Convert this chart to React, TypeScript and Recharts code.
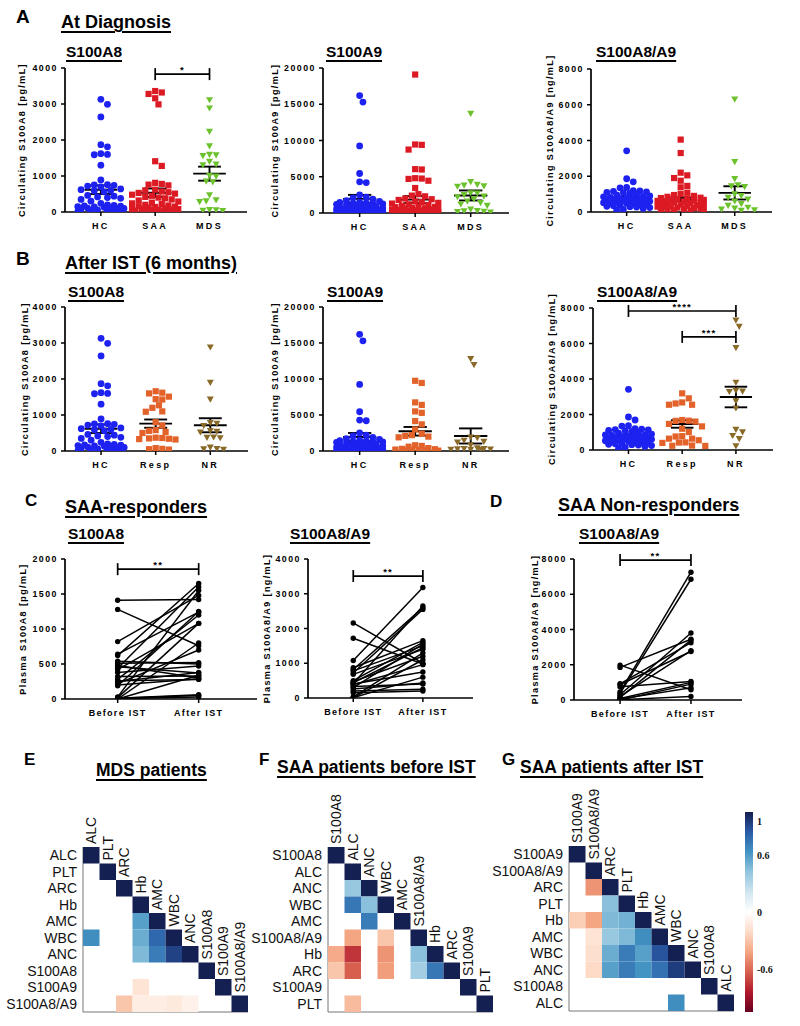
import React from 'react';
import { ScatterChart, Scatter, XAxis, YAxis, ReferenceLine, BarChart, Bar } from 'recharts';

const SANS = '"Liberation Sans", Arial, Helvetica, sans-serif';
const SERIF = '"Liberation Serif", "Times New Roman", serif';

// ---- colours of the groups
const BLUE = '#1e22f0';
const RED = '#dc1a24';
const GREEN = '#6cc22c';
const ORANGE = '#e2622a';
const BROWN = '#8a6a28';

// ---- A: at diagnosis
const dxCats = ['HC', 'SAA', 'MDS'];
const hcA8 = [3130, 2990, 2640, 1870, 1810, 1620, 1600, 1590, 1300, 890, 760, 750, 740, 720, 700, 640, 620, 600, 590, 560, 460, 440, 420, 400, 380, 350, 300, 240, 200, 180, 170, 160, 150, 140, 130, 120, 110, 100, 90, 80, 60, 50, 40, 30, 20, 10];
const saaA8 = [3360, 3320, 3280, 3160, 2990, 1410, 1280, 810, 780, 760, 740, 620, 600, 570, 550, 530, 510, 480, 450, 420, 400, 380, 350, 320, 290, 260, 240, 220, 200, 180, 160, 150, 140, 120, 110, 100, 90, 80, 70, 60, 50, 40, 30, 25, 20, 15, 10, 5];
const mdsA8 = [3110, 2880, 2230, 1830, 1590, 1580, 1560, 1400, 1320, 1300, 1010, 990, 850, 830, 470, 330, 300, 280, 60, 50, 40, 30];
const dxMeanA8 = [620, 535, 1065];
const dxSemA8 = [120, 118, 195];

const hcA9 = [16200, 15300, 9250, 5450, 4300, 4200, 2500, 2200, 2100, 1900, 1700, 1600, 1500, 1450, 1400, 1350, 1300, 1250, 1200, 1150, 1100, 1000, 950, 900, 850, 800, 750, 700, 650, 600, 550, 500, 450, 400, 380, 350, 320, 300, 280, 250, 220, 200, 180, 150, 120, 100];
const saaA9 = [19100, 9450, 9400, 8750, 6050, 6000, 4800, 4750, 4700, 4450, 3450, 2600, 2400, 2300, 2000, 1900, 1800, 1600, 1500, 1400, 1300, 1200, 1100, 1000, 900, 850, 800, 700, 650, 600, 550, 500, 450, 400, 380, 350, 300, 280, 250, 220, 200, 180, 150, 120, 100, 80, 60, 50];
const mdsA9 = [13700, 4300, 3900, 3800, 3700, 3650, 2750, 2700, 2500, 2300, 2200, 1900, 1600, 1400, 1200, 1000, 500, 300, 250, 200, 150, 100];
const dxMeanA9 = [1950, 1850, 2420];
const dxSemA9 = [550, 480, 690];

const hcA8A9 = [3420, 1860, 1690, 1370, 1350, 1200, 1180, 1150, 1130, 1100, 1080, 1050, 1000, 950, 900, 870, 850, 820, 800, 780, 760, 740, 720, 700, 680, 660, 640, 620, 600, 580, 550, 520, 500, 480, 450, 420, 400, 380, 350, 320, 300, 280, 250, 200, 150, 100];
const saaA8A9 = [4050, 3300, 2200, 2050, 1900, 1750, 1460, 1380, 1080, 1000, 950, 900, 850, 800, 780, 750, 720, 700, 680, 650, 620, 600, 580, 550, 520, 500, 480, 450, 420, 400, 380, 350, 320, 300, 280, 250, 220, 200, 180, 150, 120, 100, 80, 60];
const mdsA8A9 = [6300, 2800, 1850, 1500, 1450, 1400, 1000, 900, 800, 700, 600, 450, 350, 250, 200, 150, 100, 80];
const dxMeanA8A9 = [750, 700, 1070];
const dxSemA8A9 = [95, 110, 370];

// ---- B: after IST
const istCats = ['HC', 'Resp', 'NR'];
const respA8 = [1660, 1620, 1600, 1510, 1440, 1430, 1270, 1200, 1100, 1090, 800, 710, 580, 560, 530, 500, 370, 360, 350, 340, 330, 320, 80, 60, 50, 40];
const nrA8 = [2880, 1900, 1430, 780, 760, 700, 560, 540, 520, 380, 370, 360, 100, 60, 50, 40];
const istMeanA8 = [620, 760, 715];
const istSemA8 = [120, 115, 195];

const respA9 = [9750, 9450, 6750, 6400, 5500, 5300, 4150, 3700, 3000, 2400, 2200, 2100, 2000, 1900, 800, 700, 600, 400, 300, 250, 200, 150, 120, 100, 80, 50];
const nrA9 = [12800, 11950, 1900, 1800, 1450, 1300, 1200, 800, 400, 300, 280, 250, 220, 200, 180, 150];
const istMeanA9 = [1950, 2740, 2090];
const istSemA9 = [550, 600, 1050];

const respA8A9 = [3190, 2910, 2680, 2620, 2550, 2550, 1690, 1650, 1640, 1600, 1470, 1330, 1200, 1010, 780, 760, 640, 640, 550, 430, 420, 400, 250, 240, 230];
const nrA8A9 = [7300, 6950, 5750, 3800, 3350, 3300, 3280, 2750, 2350, 1150, 1000, 800, 620, 210];
const istMeanA8A9 = [740, 1465, 2985];
const istSemA8A9 = [95, 210, 580];

// ---- C / D: paired before / after IST
const pairCats = ['Before IST', 'After IST'];
const respBeforeA8 = [1410, 1280, 820, 640, 620, 540, 510, 480, 460, 440, 420, 380, 320, 280, 260, 250, 220, 200, 190, 30, 20, 10, 10, 5, 0, 0];
const respAfterA8 = [1420, 760, 1480, 1240, 1650, 500, 520, 300, 370, 1600, 1080, 470, 330, 1200, 280, 380, 700, 290, 1250, 1550, 1080, 50, 60, 30, 340, 800];
const respBeforeA8A9 = [2160, 1720, 1080, 870, 820, 780, 720, 680, 500, 470, 440, 420, 400, 380, 330, 300, 260, 200, 150, 30, 10, 5];
const respAfterA8A9 = [1000, 980, 3180, 1650, 2600, 1500, 2550, 1400, 1600, 1200, 1450, 2650, 750, 960, 400, 1550, 430, 250, 200, 1300, 600, 1100];
const nrBeforeA8A9 = [1980, 1850, 920, 880, 750, 460, 380, 300, 200, 150, 80, 50, 20, 0];
const nrAfterA8A9 = [580, 3450, 3250, 2750, 1050, 7250, 6850, 3800, 2800, 3400, 1000, 700, 200, 900];

// ---- E / F / G: correlation matrices (lower triangle, null = not significant)
const mdsNames = ['ALC', 'PLT', 'ARC', 'Hb', 'AMC', 'WBC', 'ANC', 'S100A8', 'S100A9', 'S100A8/A9'];
const mdsCorr = [
  [1],
  [null, 1],
  [null, null, 1],
  [null, null, null, 1],
  [null, null, null, 0.55, 1],
  [0.62, null, null, 0.5, 0.75, 1],
  [null, null, null, 0.45, 0.68, 0.88, 1],
  [null, null, null, null, null, null, null, 1],
  [null, null, null, -0.15, null, null, null, null, 1],
  [null, null, -0.28, -0.1, -0.1, -0.12, -0.08, null, null, 1],
];
const beforeNames = ['S100A8', 'ALC', 'ANC', 'WBC', 'AMC', 'S100A8/A9', 'Hb', 'ARC', 'S100A9', 'PLT'];
const beforeCorr = [
  [1],
  [null, 1],
  [null, 0.38, 1],
  [null, 0.7, 0.42, 1],
  [null, null, 0.68, null, 1],
  [null, -0.4, null, -0.28, null, 1],
  [-0.38, -0.72, null, -0.45, null, 0.42, 1],
  [-0.28, -0.6, null, -0.42, null, 0.35, 0.7, 1],
  [null, null, null, null, null, null, null, null, 1],
  [null, -0.32, null, null, null, null, null, null, null, 1],
];
const afterNames = ['S100A9', 'S100A8/A9', 'ARC', 'PLT', 'Hb', 'AMC', 'WBC', 'ANC', 'S100A8', 'ALC'];
const afterCorr = [
  [1],
  [null, 1],
  [null, -0.45, 1],
  [null, null, 0.42, 1],
  [-0.25, -0.4, 0.45, 0.48, 1],
  [null, -0.15, 0.38, 0.45, 0.62, 1],
  [null, -0.18, 0.5, 0.68, 0.55, 0.82, 1],
  [null, -0.2, 0.55, 0.68, 0.6, 0.72, 0.9, 1],
  [null, null, null, null, null, null, null, null, 1],
  [null, null, null, null, null, null, 0.62, null, null, 1],
];
const barTicks = [-1, -0.6, 0, 0.6, 1];

const RDBU = ['#67001F', '#B2182B', '#D6604D', '#F4A582', '#FDDBC7', '#FFFFFF', '#D1E5F0', '#92C5DE', '#4393C3', '#2a5aa6', '#141f52'];

function hex(c: string) {
  return [1, 3, 5].map((i) => parseInt(c.slice(i, i + 2), 16));
}
function corrColor(v: number) {
  const t = Math.max(0, Math.min(10, ((v + 1) / 2) * 10));
  const i = Math.min(9, Math.floor(t));
  const f = t - i;
  const a = hex(RDBU[i]);
  const b = hex(RDBU[i + 1]);
  const m = a.map((x, k) => Math.round(x + (b[k] - x) * f));
  return `rgb(${m[0]},${m[1]},${m[2]})`;
}

// spread points of one column sideways so they do not overlap (scatter dot plot)
function swarm(values: number[], pxY: number, pxX: number) {
  const d = 6.6;
  const step = 3.3;
  const maxOff = 25;
  const placed: [number, number][] = [];
  return values.map((v) => {
    const y = v * pxY;
    let best = 0;
    let bestGap = -1;
    for (let k = 0; k * step <= maxOff; k++) {
      const cands = k === 0 ? [0] : [k * step, -k * step];
      for (const c of cands) {
        let gap = Infinity;
        for (const [px, py] of placed) gap = Math.min(gap, Math.hypot(px - c, py - y));
        if (gap >= d) {
          placed.push([c, y]);
          return c / pxX;
        }
        if (gap > bestGap) {
          bestGap = gap;
          best = c;
        }
      }
    }
    placed.push([best, y]);
    return best / pxX;
  });
}

const marker = (kind: string, color: string) => (p: any) => {
  if (kind === 'square') return <rect x={p.cx - 3.1} y={p.cy - 3.1} width={6.2} height={6.2} fill={color} />;
  if (kind === 'triangle')
    return <polygon points={`${p.cx - 3.5},${p.cy - 2.9} ${p.cx + 3.5},${p.cy - 2.9} ${p.cx},${p.cy + 3.3}`} fill={color} />;
  if (kind === 'dot') return <circle cx={p.cx} cy={p.cy} r={2.7} fill={color} />;
  return <circle cx={p.cx} cy={p.cy} r={3.4} fill={color} />;
};

const axisTickStyle = { fontFamily: SANS, fontWeight: 700, fill: '#000' };

const XTick = (labels: string[], spacing: number) => (p: any) => (
  <text x={p.x} y={p.y} dy="0.72em" textAnchor="middle" fontSize={9} letterSpacing={spacing} {...axisTickStyle}>
    {labels[Math.round(p.payload.value) - 1]}
  </text>
);
const YTick = (p: any) => (
  <text x={p.x} y={p.y} dy="0.35em" textAnchor="end" fontSize={8.8} letterSpacing={1.5} {...axisTickStyle}>
    {p.payload.value}
  </text>
);

type Bracket = { from: number; to: number; y: number; text: string };

type FrameProps = {
  axisX: number;
  xEnd: number;
  yTop: number;
  yBottom: number;
  max: number;
  ticks: number[];
  cats: string[];
  catSpacing: number;
  xDom: [number, number];
  yLabel: string;
  labelGap: number;
  brackets?: Bracket[];
};

const YW = 62;
const MT = 26;
const XH = 42;
const MR = 6;

function bracketLines(b: Bracket, pxY: number, i: number) {
  const h = 6 / pxY;
  const line = { stroke: '#000', strokeWidth: 1.7, ifOverflow: 'visible' as const };
  return [
    <ReferenceLine
      key={`b${i}`}
      segment={[{ x: b.from, y: b.y }, { x: b.to, y: b.y }]}
      {...line}
      label={{ value: b.text, position: 'top', offset: 1, fontSize: 9.5, fontWeight: 700, fill: '#000', letterSpacing: 1.2 }}
    />,
    <ReferenceLine key={`bl${i}`} segment={[{ x: b.from, y: b.y - h }, { x: b.from, y: b.y + h }]} {...line} />,
    <ReferenceLine key={`br${i}`} segment={[{ x: b.to, y: b.y - h }, { x: b.to, y: b.y + h }]} {...line} />,
  ];
}

function Frame(props: FrameProps & { content: (pxY: number, pxX: number) => React.ReactNode[] }) {
  const { axisX, xEnd, yTop, yBottom, max, ticks, cats, catSpacing, xDom, yLabel, labelGap, brackets = [] } = props;
  const plotW = xEnd - axisX;
  const plotH = yBottom - yTop;
  const pxY = plotH / max;
  const pxX = plotW / (xDom[1] - xDom[0]);
  return (
    <div style={{ position: 'absolute', left: axisX - YW, top: yTop - MT }}>
      <ScatterChart width={YW + plotW + MR} height={MT + plotH + XH} margin={{ top: MT, right: MR, bottom: 0, left: 0 }}>
        <XAxis
          type="number"
          dataKey="x"
          domain={xDom}
          ticks={cats.map((_, i) => i + 1)}
          allowDataOverflow
          height={XH}
          tickSize={4}
          tickMargin={7}
          axisLine={{ stroke: '#000', strokeWidth: 1.7 }}
          tickLine={{ stroke: '#000', strokeWidth: 1.5 }}
          tick={XTick(cats, catSpacing)}
        />
        <YAxis
          type="number"
          dataKey="y"
          domain={[0, max]}
          ticks={ticks}
          allowDataOverflow
          width={YW}
          tickSize={4}
          tickMargin={3}
          axisLine={{ stroke: '#000', strokeWidth: 1.7 }}
          tickLine={{ stroke: '#000', strokeWidth: 1.5 }}
          tick={YTick}
          label={{
            value: yLabel,
            angle: -90,
            position: 'insideLeft',
            offset: YW - labelGap,
            style: { textAnchor: 'middle', fontSize: 9, fontWeight: 700, letterSpacing: 1.4, fill: '#000', fontFamily: SANS },
          }}
        />
        {props.content(pxY, pxX)}
        {brackets.flatMap((b, i) => bracketLines(b, pxY, i))}
      </ScatterChart>
    </div>
  );
}

type Group = { values: number[]; color: string; shape: string };

function DotPlot(p: Omit<FrameProps, 'catSpacing'> & { groups: Group[]; means: number[]; sems: number[] }) {
  const content = (pxY: number, pxX: number) => {
    const out: React.ReactNode[] = [];
    p.groups.forEach((g, gi) => {
      const offs = swarm(g.values, pxY, pxX);
      const data = g.values.map((v, i) => ({ x: gi + 1 + offs[i], y: v }));
      out.push(<Scatter key={`s${gi}`} data={data} shape={marker(g.shape, g.color)} isAnimationActive={false} />);
    });
    p.means.forEach((m, gi) => {
      const x = gi + 1;
      const s = p.sems[gi];
      const st = { stroke: '#000', strokeWidth: 1.9, ifOverflow: 'visible' as const };
      out.push(<ReferenceLine key={`m${gi}`} segment={[{ x: x - 0.3, y: m }, { x: x + 0.3, y: m }]} {...st} />);
      out.push(<ReferenceLine key={`v${gi}`} segment={[{ x, y: m - s }, { x, y: m + s }]} {...st} />);
      out.push(<ReferenceLine key={`u${gi}`} segment={[{ x: x - 0.21, y: m + s }, { x: x + 0.21, y: m + s }]} {...st} />);
      out.push(<ReferenceLine key={`l${gi}`} segment={[{ x: x - 0.21, y: m - s }, { x: x + 0.21, y: m - s }]} {...st} />);
    });
    return out;
  };
  return <Frame {...p} catSpacing={2.3} content={content} />;
}

function PairPlot(p: Omit<FrameProps, 'catSpacing'> & { before: number[]; after: number[] }) {
  const content = () =>
    p.before.map((b, i) => (
      <Scatter
        key={`p${i}`}
        data={[{ x: 1, y: b }, { x: 2, y: p.after[i] }]}
        line={{ stroke: '#000', strokeWidth: 1.5 }}
        shape={marker('dot', '#000')}
        isAnimationActive={false}
      />
    ));
  return <Frame {...p} catSpacing={1.3} content={content} />;
}

const CELL = 16.5;
const HM_YW = 80;
const HM_MT = 75;

function Heatmap({ left, top, names, corr }: { left: number; top: number; names: string[]; corr: (number | null)[][] }) {
  const data: { x: number; y: number; v: number; diag: boolean; name: string }[] = [];
  corr.forEach((row, i) =>
    row.forEach((v, j) => {
      if (v !== null) data.push({ x: j + 0.5, y: i + 0.5, v, diag: i === j, name: names[j] });
    })
  );
  const cellShape = (p: any) => {
    const d = p.payload;
    return (
      <g>
        <rect x={p.cx - CELL / 2} y={p.cy - CELL / 2} width={CELL} height={CELL} fill={corrColor(d.v)} />
        {d.diag && (
          <text
            x={p.cx + 5}
            y={p.cy - CELL / 2 - 3}
            transform={`rotate(-90 ${p.cx + 5} ${p.cy - CELL / 2 - 3})`}
            fontSize={14}
            fontFamily={SANS}
            fill="#111"
          >
            {d.name}
          </text>
        )}
      </g>
    );
  };
  const rowTick = (p: any) => (
    <text x={p.x} y={p.y} dy="0.36em" textAnchor="end" fontSize={14} fontFamily={SANS} fill="#111">
      {names[Math.floor(p.payload.value)]}
    </text>
  );
  return (
    <div style={{ position: 'absolute', left: left - HM_YW, top: top - HM_MT }}>
      <ScatterChart width={HM_YW + CELL * 10 + 30} height={HM_MT + CELL * 10 + 4} margin={{ top: HM_MT, right: 30, bottom: 0, left: 0 }}>
        <XAxis type="number" dataKey="x" domain={[0, 10]} height={4} tick={false} tickLine={false} axisLine={{ stroke: '#777' }} />
        <YAxis
          type="number"
          dataKey="y"
          domain={[0, 10]}
          reversed
          ticks={names.map((_, i) => i + 0.5)}
          interval={0}
          width={HM_YW}
          tickSize={0}
          tickMargin={6}
          tickLine={false}
          axisLine={{ stroke: '#777' }}
          tick={rowTick}
        />
        <Scatter data={data} shape={cellShape} isAnimationActive={false} />
      </ScatterChart>
    </div>
  );
}

function ColorBar() {
  const tick = (p: any) => (
    <text x={p.x} y={p.y} dy="0.35em" textAnchor="start" fontSize={10} fontWeight={700} fontFamily={SERIF} fill="#111">
      {p.payload.value}
    </text>
  );
  return (
    <div style={{ position: 'absolute', left: 745, top: 812 }}>
      <BarChart width={38} height={200} data={[{ k: 'bar', v: [-1.05, 1.06] }]} margin={{ top: 0, right: 0, bottom: 0, left: 0 }} barCategoryGap={0}>
        <defs>
          <linearGradient id="rdbu" x1="0" y1="0" x2="0" y2="1">
            {RDBU.map((c, i) => (
              <stop key={c} offset={`${i * 10}%`} stopColor={RDBU[10 - i]} />
            ))}
          </linearGradient>
        </defs>
        <XAxis dataKey="k" hide />
        <YAxis orientation="right" domain={[-1.05, 1.06]} ticks={barTicks} width={30} axisLine={false} tickLine={false} tickSize={0} tickMargin={4} tick={tick} />
        <Bar dataKey="v" fill="url(#rdbu)" isAnimationActive={false} />
      </BarChart>
    </div>
  );
}

function T({ x, cy, size, text, u }: { x: number; cy: number; size: number; text: string; u?: boolean }) {
  return (
    <div
      style={{
        position: 'absolute',
        left: x,
        top: cy - size * 0.49,
        fontSize: size,
        lineHeight: 1,
        fontWeight: 700,
        fontFamily: SANS,
        whiteSpace: 'nowrap',
        textDecoration: u ? 'underline' : 'none',
        textDecorationThickness: 1.6,
        textUnderlineOffset: 3,
        color: '#000',
      }}
    >
      {text}
    </div>
  );
}

const DX: [number, number] = [0.34, 3.69];
const PX: [number, number] = [0.35, 2.72];
const t4000 = [0, 1000, 2000, 3000, 4000];
const t20000 = [0, 5000, 10000, 15000, 20000];
const t8000 = [0, 2000, 4000, 6000, 8000];

export default function App() {
  return (
    <div style={{ position: 'absolute', left: 0, top: 0, width: 800, height: 1026, background: '#fff', overflow: 'hidden', fontFamily: SANS }}>
      <T x={16} cy={16} size={19} text="A" />
      <T x={61} cy={22} size={18} text="At Diagnosis" u />
      <T x={66} cy={52} size={15.5} text="S100A8" u />
      <T x={326} cy={52} size={15.5} text="S100A9" u />
      <T x={596} cy={52} size={15.5} text="S100A8/A9" u />

      <DotPlot
        axisX={65} xEnd={247} yTop={68} yBottom={212} max={4000} ticks={t4000} cats={dxCats} xDom={DX}
        yLabel="Circulating S100A8 [pg/mL]" labelGap={43}
        groups={[{ values: hcA8, color: BLUE, shape: 'circle' }, { values: saaA8, color: RED, shape: 'square' }, { values: mdsA8, color: GREEN, shape: 'triangle' }]}
        means={dxMeanA8} sems={dxSemA8}
        brackets={[{ from: 2, to: 3, y: 3830, text: '*' }]}
      />
      <DotPlot
        axisX={323} xEnd={509} yTop={68} yBottom={213} max={20000} ticks={t20000} cats={dxCats} xDom={DX}
        yLabel="Circulating S100A9 [pg/mL]" labelGap={48}
        groups={[{ values: hcA9, color: BLUE, shape: 'circle' }, { values: saaA9, color: RED, shape: 'square' }, { values: mdsA9, color: GREEN, shape: 'triangle' }]}
        means={dxMeanA9} sems={dxSemA9}
      />
      <DotPlot
        axisX={591} xEnd={772} yTop={69} yBottom={212} max={8000} ticks={t8000} cats={dxCats} xDom={DX}
        yLabel="Circulating S100A8/A9 [ng/mL]" labelGap={41}
        groups={[{ values: hcA8A9, color: BLUE, shape: 'circle' }, { values: saaA8A9, color: RED, shape: 'square' }, { values: mdsA8A9, color: GREEN, shape: 'triangle' }]}
        means={dxMeanA8A9} sems={dxSemA8A9}
      />

      <T x={16} cy={258} size={19} text="B" />
      <T x={65} cy={263} size={18} text="After IST (6 months)" u />
      <T x={68} cy={292} size={15.5} text="S100A8" u />
      <T x={327} cy={292} size={15.5} text="S100A9" u />
      <T x={597} cy={292} size={15.5} text="S100A8/A9" u />

      <DotPlot
        axisX={65} xEnd={248} yTop={307} yBottom={451} max={4000} ticks={t4000} cats={istCats} xDom={DX}
        yLabel="Circulating S100A8 [pg/mL]" labelGap={40}
        groups={[{ values: hcA8, color: BLUE, shape: 'circle' }, { values: respA8, color: ORANGE, shape: 'square' }, { values: nrA8, color: BROWN, shape: 'triangle' }]}
        means={istMeanA8} sems={istSemA8}
      />
      <DotPlot
        axisX={323} xEnd={509} yTop={307} yBottom={451} max={20000} ticks={t20000} cats={istCats} xDom={DX}
        yLabel="Circulating S100A9 [pg/mL]" labelGap={48}
        groups={[{ values: hcA9, color: BLUE, shape: 'circle' }, { values: respA9, color: ORANGE, shape: 'square' }, { values: nrA9, color: BROWN, shape: 'triangle' }]}
        means={istMeanA9} sems={istSemA9}
      />
      <DotPlot
        axisX={593} xEnd={773} yTop={308} yBottom={450} max={8000} ticks={t8000} cats={istCats} xDom={DX}
        yLabel="Circulating S100A8/A9 [ng/mL]" labelGap={41}
        groups={[{ values: hcA8A9, color: BLUE, shape: 'circle' }, { values: respA8A9, color: ORANGE, shape: 'square' }, { values: nrA8A9, color: BROWN, shape: 'triangle' }]}
        means={istMeanA8A9} sems={istSemA8A9}
        brackets={[{ from: 1, to: 3, y: 7830, text: '****' }, { from: 2, to: 3, y: 6370, text: '***' }]}
      />

      <T x={25} cy={500} size={17} text="C" />
      <T x={65} cy={507} size={18} text="SAA-responders" u />
      <T x={68} cy={534} size={15.5} text="S100A8" u />
      <T x={290} cy={534} size={15.5} text="S100A8/A9" u />
      <T x={490} cy={501} size={17} text="D" />
      <T x={558} cy={505} size={18} text="SAA Non-responders" u />
      <T x={579} cy={534} size={15.5} text="S100A8/A9" u />

      <PairPlot
        axisX={65} xEnd={257} yTop={559} yBottom={699} max={2000} ticks={[0, 500, 1000, 1500, 2000]} cats={pairCats} xDom={PX}
        yLabel="Plasma S100A8 [pg/mL]" labelGap={42}
        before={respBeforeA8} after={respAfterA8}
        brackets={[{ from: 1, to: 2, y: 1855, text: '**' }]}
      />
      <PairPlot
        axisX={308} xEnd={473} yTop={559} yBottom={698} max={4000} ticks={t4000} cats={pairCats} xDom={PX}
        yLabel="Plasma S100A8/A9 [ng/mL]" labelGap={41}
        before={respBeforeA8A9} after={respAfterA8A9}
        brackets={[{ from: 1, to: 2, y: 3510, text: '**' }]}
      />
      <PairPlot
        axisX={574} xEnd={742} yTop={559} yBottom={700} max={8000} ticks={t8000} cats={pairCats} xDom={PX}
        yLabel="Plasma S100A8/A9 [ng/mL]" labelGap={39}
        before={nrBeforeA8A9} after={nrAfterA8A9}
        brackets={[{ from: 1, to: 2, y: 7940, text: '**' }]}
      />

      <T x={24} cy={759} size={17} text="E" />
      <T x={96} cy={771} size={17.5} text="MDS patients" u />
      <T x={259} cy={759} size={17} text="F" />
      <T x={277} cy={768} size={17.5} text="SAA patients before IST" u />
      <T x={502} cy={759} size={17} text="G" />
      <T x={520} cy={768} size={17.5} text="SAA patients after IST" u />

      <Heatmap left={83} top={847} names={mdsNames} corr={mdsCorr} />
      <Heatmap left={328} top={847} names={beforeNames} corr={beforeCorr} />
      <Heatmap left={569} top={846} names={afterNames} corr={afterCorr} />
      <ColorBar />
    </div>
  );
}
